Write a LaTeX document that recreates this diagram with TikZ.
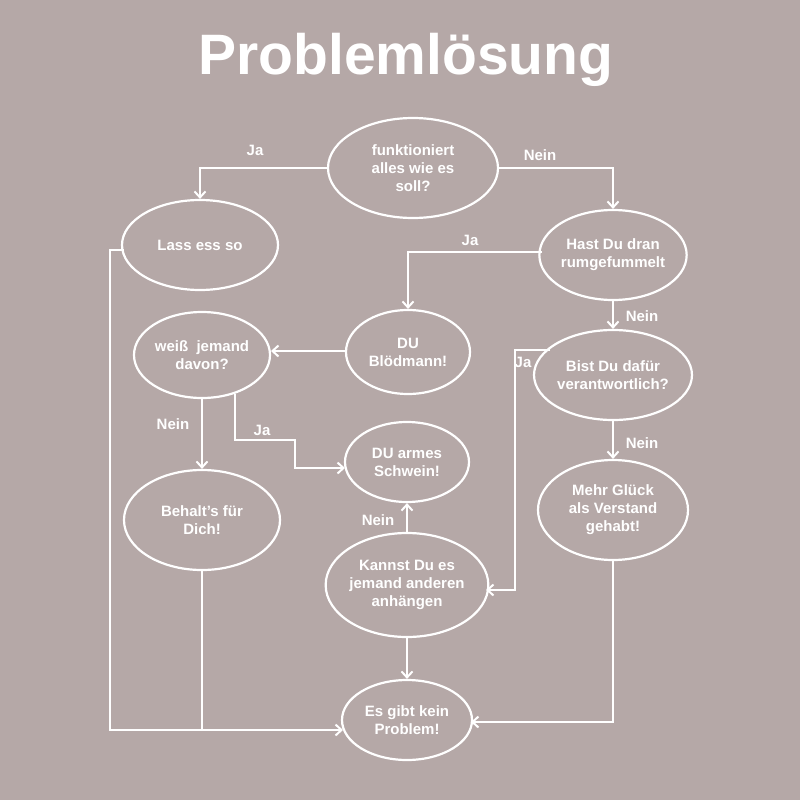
\documentclass[tikz,border=0pt]{standalone}
\usepackage{fontspec}
\setmainfont{Liberation Sans}
\usetikzlibrary{shapes.geometric,arrows.meta}
\definecolor{bg}{HTML}{B5A8A7}
\begin{document}
\begin{tikzpicture}[x=1pt,y=-1pt,
  el/.style={ellipse,draw=white,line width=2.2pt,minimum width=#1,align=center,font=\bfseries\fontsize{15}{18}\selectfont,text=white,inner sep=0pt},
  ln/.style={draw=white,line width=2.2pt},
  ar/.style={ln,-{Straight Barb[length=6pt,width=11pt,line width=2pt]}},
  lb/.style={font=\bfseries\fontsize{15}{18}\selectfont,text=white}]
\fill[bg] (0,0) rectangle (800,800);
\useasboundingbox (0,0) rectangle (800,800);
\node[text=white,font=\bfseries\fontsize{57}{60}\selectfont] (title) at (406,60) {Problemlösung};
\node[el=170pt,minimum height=100pt] (f) at (413,168) {funktioniert\\alles wie es\\soll?};
\node[el=156pt,minimum height=90pt] (l) at (200,245) {Lass ess so};
\node[el=144pt,minimum height=90pt] (h) at (613,255) {Hast Du dran\\rumgefummelt};
\node[el=124pt,minimum height=84pt] (b) at (408,352) {DU\\Blödmann!};
\node[el=136pt,minimum height=86pt] (w) at (202,355) {weiß \ jemand\\davon?};
\node[el=150pt,minimum height=90pt] (v) at (613,375) {Bist Du dafür\\verantwortlich?};
\node[el=124pt,minimum height=80pt] (s) at (407,462) {DU armes\\Schwein!};
\node[el=156pt,minimum height=100pt] (d) at (202,520) {Behalt’s für\\Dich!};
\node[el=150pt,minimum height=100pt] (m) at (613,510) {Mehr Glück\\als Verstand\\gehabt!};
\node[el=160pt,minimum height=104pt] (k) at (407,585) {Kannst Du es\\jemand anderen\\anhängen};
\node[el=130pt,minimum height=80pt] (e) at (407,720) {Es gibt kein\\Problem!};
\coordinate (le) at (110,730);
\draw[ar] (f.west) -| (l.north);
\node[lb] at (255,150) {Ja};
\draw[ar] (f.east) -| (h.north);
\node[lb] at (540,155) {Nein};
\draw[ar] (542,252) -| (b.north);
\node[lb] at (470,240) {Ja};
\draw[ar] (h.south) -- (v.north);
\node[lb] at (642,316) {Nein};
\draw[ar] (346,351) -- (271,351);
\draw[ar] (w.south) -- (d.north);
\node[lb] at (173,424) {Nein};
\draw[ar] (235,394) -- (235,440) -- (295,440) -- (295,468) -- (345,468);
\node[lb] at (262,430) {Ja};
\draw[ar] (550,350) -- (515,350) -- (515,590) -- (486,590);
\node[lb] at (523,362) {Ja};
\draw[ar] (v.south) -- (m.north);
\node[lb] at (642,443) {Nein};
\draw[ar] (k.north) -- (s.south);
\node[lb] at (378,520) {Nein};
\draw[ar] (k.south) -- (e.north);
\draw[ar] (m.south) -- (613,722) -- (471,722);
\draw[ar] (124,250) -- (110,250) -- (le) -- (343,730);
\draw[ln] (d.south) -- (202,730);
\end{tikzpicture}
\end{document}
